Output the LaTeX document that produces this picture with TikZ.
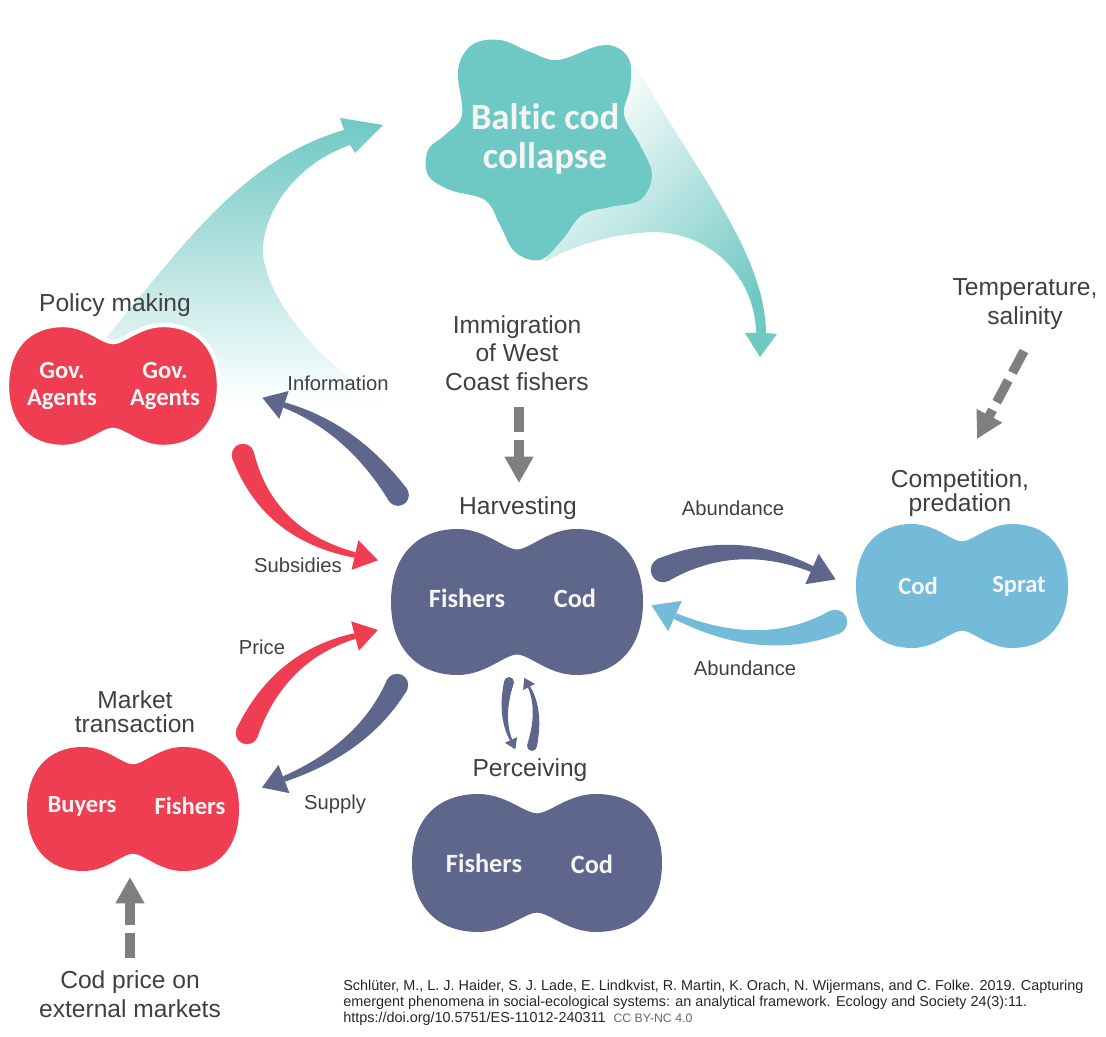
\documentclass[tikz,border=0pt]{standalone}
\usepackage{fontspec}
\usepackage{tikz}
\usetikzlibrary{arrows.meta, calc, positioning}
\setmainfont{Liberation Sans}
\newfontfamily\calib[Ligatures=NoCommon]{Carlito}
\definecolor{Cod_Navy}{HTML}{5E668B}
\definecolor{Cod_Red}{HTML}{EF3E51}
\definecolor{Cod_Sky}{HTML}{74BBD9}
\definecolor{Cod_Teal}{HTML}{6EC8C3}
\definecolor{Cod_Gray}{HTML}{7F7F7F}
\definecolor{Cod_Text}{HTML}{404040}

% tapered brush arrow: colour, tail, bend, shaft end, tail radius
\newcommand\brush[5]{%
  \pgfmathsetlengthmacro\bw{#5}%
  \pgfmathsetlengthmacro\be{0.25*#5}%
  \pgfmathsetlengthmacro\bm{0.625*#5}%
  \pgfmathsetlengthmacro\bh{1.35*#5}%
  \pgfmathsetlengthmacro\bl{2.1*#5}%
  \coordinate (bA1) at ($(#2)!\bw!90:(#3)$);
  \coordinate (bA2) at ($(#2)!\bw!-90:(#3)$);
  \coordinate (bE1) at ($(#4)!\be!-90:(#3)$);
  \coordinate (bE2) at ($(#4)!\be!90:(#3)$);
  \coordinate (bC1) at ($(#3)+($(#2)!\bm!90:(#4)$)-(#2)$);
  \coordinate (bC2) at ($(#3)+($(#2)!\bm!-90:(#4)$)-(#2)$);
  \fill[#1] (#2) circle[radius=\bw];
  \fill[#1] (bA1) .. controls ($(bA1)!2/3!(bC1)$) and ($(bE1)!2/3!(bC1)$) .. (bE1)
    -- (bE2) .. controls ($(bE2)!2/3!(bC2)$) and ($(bA2)!2/3!(bC2)$) .. (bA2) -- cycle;
  \fill[#1] ($(#4)!-\bl!(#3)$) -- ($(#4)!\bh!90:(#3)$) -- ($(#4)!\bh!-90:(#3)$) -- cycle;
}

\begin{document}
\begin{tikzpicture}[
    x=0.02cm, y=-0.02cm,
    peanut/.pic={
        \path[pic actions] (0,0.72) .. controls (0.1,0.72) and (0.25,1) .. (0.47,1)
            .. controls (0.8,1) and (1,0.62) .. (1,0)
            .. controls (1,-0.62) and (0.8,-1) .. (0.47,-1)
            .. controls (0.25,-1) and (0.1,-0.72) .. (0,-0.72)
            .. controls (-0.1,-0.72) and (-0.25,-1) .. (-0.47,-1)
            .. controls (-0.8,-1) and (-1,-0.62) .. (-1,0)
            .. controls (-1,0.62) and (-0.8,1) .. (-0.47,1)
            .. controls (-0.25,1) and (-0.1,0.72) .. (0,0.72) -- cycle;
    },
    inside/.style={text=white!96!black, font=\calib\bfseries\fontsize{15}{15}\selectfont, align=center},
    insidesm/.style={inside, font=\calib\bfseries\fontsize{14}{15.3}\selectfont},
    heading/.style={text=Cod_Text, font=\fontsize{14}{16.2}\selectfont, align=center},
    headtight/.style={heading, font=\fontsize{14}{13.6}\selectfont},
    flow/.style={text=Cod_Text, font=\fontsize{11.5}{13}\selectfont},
    gdash/.style={draw=Cod_Gray, line width=5.4pt, dash pattern=on 14pt off 5pt,
        -{Triangle[width=15.5pt, length=15pt]}}
]
\useasboundingbox (0,0) rectangle (1106,1037);

% teal flows to and from the collapse
\shade[top color=Cod_Teal, bottom color=white]
    (100,345) .. controls (180,250) and (240,160) .. (344,130) -- (340,118) -- (383,125)
    -- (355,153) -- (350,145) .. controls (280,170) and (255,235) .. (265,265)
    .. controls (275,310) and (330,375) .. (395,405) -- (150,405) -- cycle;
\shade[top color=white, bottom color=Cod_Teal, shading angle=45]
    (600,110) -- (635,63) .. controls (690,165) and (765,250) .. (766,333) -- (777,334)
    -- (760,357) -- (745,333) -- (756,333) .. controls (755,270) and (700,225) .. (640,233)
    .. controls (600,236) and (565,250) .. (545,262) -- cycle;

% collapse
\fill[Cod_Teal] plot[smooth cycle, tension=0.6] coordinates {
    (462,115) (458,70) (472,45) (500,40) (530,52) (558,60) (598,46) (618,48)
    (630,62) (630,88) (624,115) (640,145) (652,175) (640,200) (610,207) (582,215)
    (562,240) (540,260) (515,252) (500,225) (485,200) (450,190) (428,175)
    (428,150) (445,135)};
\node[inside, font=\calib\bfseries\fontsize{21}{22}\selectfont] (collapse) at (545,139) {Baltic cod\\collapse};

% systems
\pic[fill=Cod_Red, draw=white, line width=2.5pt, xscale=106, yscale=61] at (113,386) {peanut};
\pic[fill=Cod_Navy, xscale=126, yscale=73] at (517,602) {peanut};
\pic[fill=Cod_Navy, xscale=125, yscale=69] at (537,863) {peanut};
\pic[fill=Cod_Red, xscale=106, yscale=62] at (133,809) {peanut};
\pic[fill=Cod_Sky, xscale=106, yscale=62] at (962,586) {peanut};

\node[insidesm] (govA) at (62,386) {Gov.\\Agents};
\node[insidesm] (govB) at (165,386) {Gov.\\Agents};
\node[inside] (harvF) at (467,598) {Fishers};
\node[inside] (harvC) at (575,598) {Cod};
\node[inside] (percF) at (484,863) {Fishers};
\node[inside] (percC) at (592,864) {Cod};
\node[insidesm] (mktB) at (82,806) {Buyers};
\node[insidesm] (mktF) at (190,806) {Fishers};
\node[insidesm] (compC) at (918,586) {Cod};
\node[insidesm] (compS) at (1019,586) {Sprat};

\node[heading] (policy) at (115,305) {Policy making};
\node[heading] (harvest) at (518,508) {Harvesting};
\node[heading] (perceive) at (530,770) {Perceiving};
\node[headtight] (market) at (135,712) {Market\\transaction};
\node[headtight] (compet) at (960,493) {Competition,\\predation};
\node[heading] (immig) at (517,353) {Immigration\\of West\\Coast fishers};
\node[heading] (temp) at (1025,304) {Temperature,\\salinity};
\node[heading] (extprice) at (130,994) {Cod price on\\external markets};

% flows between systems
\node[flow] (info) at (338,383) {Information};
\node[flow] (subs) at (298,565) {Subsidies};
\node[flow] (price) at (262,647) {Price};
\node[flow] (supply) at (335,804) {Supply};
\node[flow] (abunA) at (733,508) {Abundance};
\node[flow] (abunB) at (745,668) {Abundance};

\coordinate (infoT) at (398,495);  \coordinate (infoC) at (352,428);  \coordinate (infoE) at (284,405);
\coordinate (subsT) at (243,455);  \coordinate (subsC) at (268,535);  \coordinate (subsE) at (355,555);
\coordinate (priceT) at (247,733); \coordinate (priceC) at (279,656); \coordinate (priceE) at (355,636);
\coordinate (suppT) at (397,685);  \coordinate (suppC) at (364,748);  \coordinate (suppE) at (284,779);
\coordinate (abAT) at (663,570);   \coordinate (abAC) at (735,535);   \coordinate (abAE) at (812,569);
\coordinate (abBT) at (835,622);   \coordinate (abBC) at (763,656);   \coordinate (abBE) at (675,616);
\coordinate (pcAT) at (509,682);   \coordinate (pcAC) at (500,716);   \coordinate (pcAE) at (511,740);
\coordinate (pcBT) at (532,746);   \coordinate (pcBC) at (541,710);   \coordinate (pcBE) at (529,687);

\brush{Cod_Navy}{infoT}{infoC}{infoE}{6.2pt}
\brush{Cod_Red}{subsT}{subsC}{subsE}{6.4pt}
\brush{Cod_Red}{priceT}{priceC}{priceE}{6.4pt}
\brush{Cod_Navy}{suppT}{suppC}{suppE}{6.4pt}
\brush{Cod_Navy}{abAT}{abAC}{abAE}{7pt}
\brush{Cod_Sky}{abBT}{abBC}{abBE}{7pt}
\brush{Cod_Navy}{pcAT}{pcAC}{pcAE}{2.8pt}
\brush{Cod_Navy}{pcBT}{pcBC}{pcBE}{2.8pt}

% outside drivers
\coordinate (immT) at (519,407);   \coordinate (immH) at (519,483);
\coordinate (tempT) at (1024,351); \coordinate (tempH) at (977,439);
\coordinate (extT) at (130,958);   \coordinate (extH) at (130,877);
\draw[gdash] (immT) -- (immH);
\draw[gdash] (tempT) -- (tempH);
\draw[gdash] (extT) -- (extH);

\node[anchor=north west, inner sep=0pt, align=left, text=black!85,
      font=\fontsize{8.2}{9.07}\selectfont] (cite) at (343,980)
    {Schlüter, M., L. J. Haider, S. J. Lade, E. Lindkvist, R. Martin, K. Orach, N. Wijermans, and C. Folke. 2019. Capturing\\
     emergent phenomena in social-ecological systems: an analytical framework. Ecology and Society 24(3):11.\\
     https://doi.org/10.5751/ES-11012-240311\ \ {\color{black!60}\fontsize{7}{9}\selectfont CC BY-NC 4.0}};

\end{tikzpicture}
\end{document}
